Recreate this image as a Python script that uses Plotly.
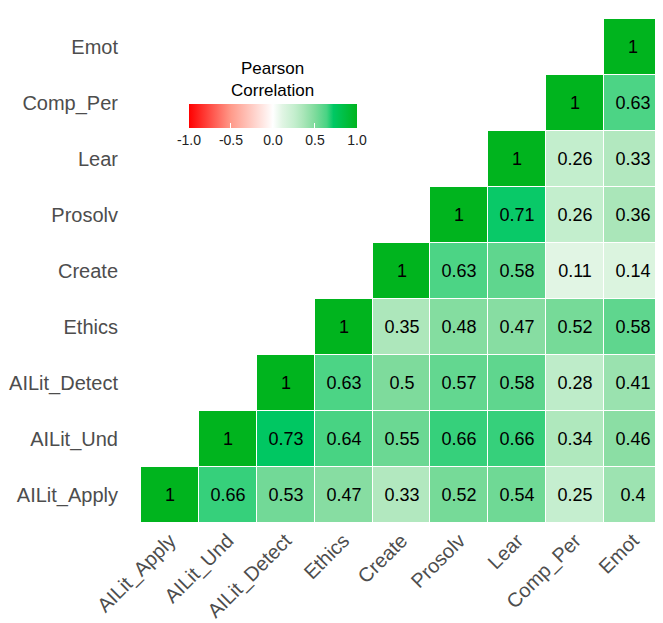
import plotly.graph_objects as go

variables = ["AILit_Apply", "AILit_Und", "AILit_Detect", "Ethics", "Create",
             "Prosolv", "Lear", "Comp_Per", "Emot"]

# upper triangle, each row starts at its own diagonal
row_apply = [1, 0.66, 0.53, 0.47, 0.33, 0.52, 0.54, 0.25, 0.4]
row_und = [1, 0.73, 0.64, 0.55, 0.66, 0.66, 0.34, 0.46]
row_detect = [1, 0.63, 0.5, 0.57, 0.58, 0.28, 0.41]
row_ethics = [1, 0.35, 0.48, 0.47, 0.52, 0.58]
row_create = [1, 0.63, 0.58, 0.11, 0.14]
row_prosolv = [1, 0.71, 0.26, 0.36]
row_lear = [1, 0.26, 0.33]
row_comp = [1, 0.63]
row_emot = [1]

rows = [row_apply, row_und, row_detect, row_ethics, row_create,
        row_prosolv, row_lear, row_comp, row_emot]

cbar_ticks = [-1.0, -0.5, 0.0, 0.5, 1.0]


def build_matrix(rows, n):
    z = []
    text = []
    for i, r in enumerate(rows):
        zr = [None] * i + list(r)
        tr = [""] * i + [f"{v:g}" for v in r]
        z.append(zr[:n])
        text.append(tr[:n])
    return z, text


z, text = build_matrix(rows, len(variables))

colorscale = [
    [0.0, "#FF0000"],
    [0.25, "#FF9A8A"],
    [0.5, "#FFFFFF"],
    [0.555, "#E1F5E4"],
    [0.63, "#C3EECD"],
    [0.68, "#AAE6B9"],
    [0.75, "#7EDB9C"],
    [0.82, "#48D383"],
    [0.86, "#00C864"],
    [1.0, "#00B41E"],
]

font = "Liberation Sans, Arial, sans-serif"

trace = go.Heatmap(
    x=variables, y=variables, z=z, text=text,
    texttemplate="%{text}", textfont=dict(size=18, color="black", family=font),
    zmin=-1, zmax=1, colorscale=colorscale, xgap=1, ygap=1,
    hoverongaps=False,
    colorbar=dict(
        orientation="h", xref="paper", yref="paper",
        x=0.2533, xanchor="center", y=0.8512, yanchor="top",
        len=188, lenmode="pixels", thickness=24, outlinewidth=0,
        tickvals=cbar_ticks, ticktext=[f"{v:.1f}" for v in cbar_ticks],
        ticks="inside", tickcolor="white", ticklen=5,
        tickfont=dict(size=14, color="#222222", family=font),
    ),
)

fig = go.Figure(data=[trace])
fig.update_layout(
    width=663, height=623,
    margin=dict(l=133, r=9, t=11, b=108),
    plot_bgcolor="white", paper_bgcolor="white",
    font=dict(family=font),
    annotations=[dict(
        text="Pearson<br>Correlation", showarrow=False,
        xref="paper", yref="paper", x=0.2533, y=0.879,
        xanchor="center", yanchor="middle",
        font=dict(size=17, color="black", family=font),
    )],
)
fig.update_xaxes(showgrid=False, zeroline=False, tickangle=-45, automargin=False,
                 tickfont=dict(size=20, color="#4D4D4D"), ticklabelstandoff=1)
fig.update_yaxes(showgrid=False, zeroline=False, automargin=False,
                 tickfont=dict(size=20, color="#4D4D4D"), ticklabelstandoff=22)

fig.write_html("out.html")
